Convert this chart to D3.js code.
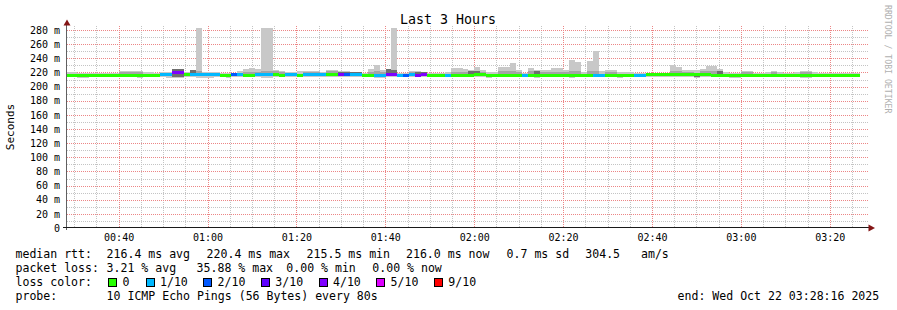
<!DOCTYPE html>
<html><head><meta charset="utf-8">
<script src="https://cdn.jsdelivr.net/npm/d3@7"></script>
<style>html,body{margin:0;padding:0;background:#fff;} svg{display:block;}</style>
</head><body><svg id="c" width="897" height="310"></svg>
<script>
// ---------------- data ----------------
const chartTitle = "Last 3 Hours";
const yAxisTitle = "Seconds";
const watermark = "RRDTOOL / TOBI OETIKER";
const startTime = "2025-10-22T00:28:16Z";
const endTime = "2025-10-22T03:28:16Z";
const stepSeconds = 80;
const firstBarOffset = -20;   // seconds relative to start
const yMaxMs = 282.84;
const yTickValues = [0, 20, 40, 60, 80, 100, 120, 140, 160, 180, 200, 220, 240, 260, 280];

const medianMs = [
 216.2,216.2,215.6,215.6,216.0,216.0,216.0,216.0,216.0,216.0,
 216.0,216.0,216.0,216.0,216.0,216.0,216.4,216.4,219.6,220.4,
 217.5,217.5,217.5,217.2,217.2,217.2,216.2,216.2,216.6,216.8,
 216.3,216.3,216.8,216.8,216.8,217.0,216.0,216.5,216.5,216.0,
 216.5,216.5,216.5,216.5,216.6,216.6,217.2,216.5,216.5,216.5,
 216.0,216.3,216.3,216.3,217.5,217.5,216.3,216.3,216.5,215.5,
 217.6,216.0,216.0,216.0,216.3,216.0,216.0,216.0,216.2,217.2,
 216.5,215.5,216.0,216.0,216.0,216.0,216.0,216.3,216.0,216.2,
 216.0,216.0,216.0,216.0,216.0,216.0,216.0,216.0,216.0,216.3,
 216.3,216.0,216.0,216.0,216.0,216.0,216.3,216.3,216.8,216.8,
 216.8,216.8,216.8,216.8,216.8,216.8,216.8,216.8,216.8,216.2,
 216.2,215.8,216.0,216.0,216.0,216.0,216.0,216.0,216.0,216.0,
 216.0,216.0,216.0,216.0,216.0,216.0,216.0,216.0,216.0,216.0,
 216.0,216.0,216.0,216.0
];
const lossPings = [
 0,0,0,0,0,0,0,0,0,0,
 0,0,0,0,0,0,0.6,0.4,3.4,3.59,
 0,0.5,0.7,0.4,0.5,0.3,0,0,1.6,0.5,
 0,0,0.4,0.8,0.6,0,0,0.5,0.4,0,
 0.6,0.5,0.4,0.3,0,0,3.2,1.4,0.7,0.5,
 0,0,0.6,0.4,3.3,3.5,0.8,1.3,0.6,3.1,
 3.2,0,0,0,0.5,0,0,0,0,0,
 0,0,0,0,0,0,0,0.4,0,0,
 0,0,0,0,0,0,0,0,0,0.6,
 0.5,0,0,0,0,0,0.4,0.6,0,0,
 0,0,0,0,0,0,0,0,0,0,
 0,0,0,0,0,0,0,0,0,0,
 0,0,0,0,0,0,0,0,0,0,
 0,0,0,0
];
const pingMax = [
 220.6,220.6,219.5,219.5,219.0,219.0,219.0,219.5,219.5,222.0,
 222.0,222.5,222.5,220.6,220.6,219.5,220.6,220.6,224.4,224.4,
 220.6,223.4,300.0,220.6,220.6,220.6,219.2,219.2,219.2,222.0,
 224.8,226.7,224.8,300.0,300.0,223.8,222.0,220.6,220.6,222.0,
 221.6,221.6,221.6,220.6,223.8,223.8,222.0,222.0,220.6,220.6,
 219.2,225.3,231.0,223.4,224.4,300.0,219.2,219.2,221.6,222.5,
 219.2,218.5,218.5,218.5,220.6,226.2,226.2,225.3,223.8,227.7,
 223.8,220.6,220.6,227.7,228.1,233.3,223.4,219.2,226.2,224.0,
 223.0,223.0,226.2,226.2,223.0,238.0,234.7,220.6,236.1,250.3,
 222.0,223.0,223.0,220.6,220.6,220.6,219.2,219.2,219.2,219.2,
 219.2,219.9,230.0,227.7,223.0,223.0,223.0,225.3,229.5,229.5,
 224.8,220.6,219.2,219.2,222.0,222.0,219.2,219.2,220.6,222.0,
 220.6,218.5,218.5,220.6,222.0,222.0,220.6,218.5,218.5,218.5,
 219.9,219.9,218.5,218.5
];
const pingMin = [
 214.2,214.2,212.0,212.0,214.2,214.2,214.2,214.2,214.2,214.2,
 214.2,214.2,212.0,214.2,214.2,214.2,214.2,212.0,212.5,212.5,
 214.2,214.2,212.0,212.0,212.0,214.2,214.2,212.0,214.2,214.2,
 214.2,214.2,214.2,212.0,212.5,214.2,214.2,214.2,214.2,214.2,
 214.2,214.2,214.2,214.2,214.2,214.2,214.2,214.2,214.2,214.2,
 214.2,214.2,212.0,212.0,214.2,214.2,214.2,214.2,214.2,214.2,
 214.2,214.2,214.2,214.2,214.2,214.2,214.2,214.2,214.2,214.2,
 214.2,212.0,214.2,214.2,214.2,214.2,214.2,214.2,214.2,212.0,
 214.2,214.2,214.2,214.2,214.2,212.5,214.2,214.2,214.2,214.2,
 214.2,214.2,214.2,212.5,214.2,214.2,214.2,214.2,214.2,214.2,
 214.2,214.2,214.2,214.2,214.2,214.2,212.0,214.2,214.2,214.2,
 214.2,214.2,212.0,212.0,214.2,214.2,214.2,214.2,214.2,214.2,
 214.2,214.2,214.2,214.2,212.0,212.0,214.2,214.2,214.2,214.2,
 214.2,214.2,213.0,213.0
];
// upper edge of the denser (mid-grey) part of the smoke, null = none
const midHi = [
 null,null,null,null,null,null,null,null,null,220.6,
 220.6,221.2,221.2,null,null,null,null,null,null,null,
 null,null,221.5,null,null,null,null,null,null,null,
 221.0,221.0,220.6,221.5,221.5,221.5,220.6,null,null,null,
 220.6,220.6,220.6,null,221.5,221.5,null,null,null,null,
 null,221.0,222.0,221.0,null,null,null,null,220.6,null,
 null,null,null,null,null,221.0,221.0,221.0,null,null,
 221.0,null,null,221.5,221.5,222.0,220.6,null,221.5,null,
 221.0,221.0,221.0,221.0,220.6,222.0,222.0,null,221.5,222.0,
 null,221.0,221.0,null,null,null,null,null,null,null,
 null,null,221.5,221.5,220.6,220.6,null,221.5,221.5,221.5,
 null,null,null,null,220.6,220.6,null,null,null,220.6,
 null,null,null,null,220.6,220.6,null,null,null,null,
 null,null,null,null
];
// darkest core of the smoke (bars with few replies), null = none
const darkLo = [
 null,null,null,null,null,null,null,null,null,null,
 null,null,null,null,null,null,null,null,213.0,213.0,
 null,214.5,null,null,null,null,null,null,null,null,
 null,null,null,null,null,null,null,null,null,null,
 null,null,null,null,null,null,215.0,215.0,215.0,215.0,
 null,null,null,null,214.5,214.5,null,null,null,214.0,
 215.0,null,null,null,null,null,null,null,215.0,215.0,
 null,null,null,null,null,null,null,null,null,213.5,
 null,null,null,null,null,null,null,null,null,null,
 null,null,null,null,null,null,null,null,null,null,
 null,null,null,null,null,null,213.0,null,null,null,
 214.5,null,null,null,null,null,null,null,null,null,
 null,null,null,null,213.5,null,null,null,null,null,
 null,null,null,null
];
const darkHi = [
 null,null,null,null,null,null,null,null,null,null,
 null,null,null,null,null,null,null,null,224.4,224.4,
 null,223.4,null,null,null,null,null,null,null,null,
 null,null,null,null,null,null,null,null,null,null,
 null,null,null,null,null,null,221.0,221.0,220.6,220.6,
 null,null,null,null,224.4,223.0,null,null,null,220.0,
 221.0,null,null,null,null,null,null,null,222.0,222.5,
 null,null,null,null,null,null,null,null,null,221.5,
 null,null,null,null,null,null,null,null,null,null,
 null,null,null,null,null,null,null,null,null,null,
 null,null,null,null,null,null,218.5,null,null,null,
 221.5,null,null,null,null,null,null,null,null,null,
 null,null,null,null,217.0,null,null,null,null,null,
 null,null,null,null
];
const lossThresholds = [0, 1, 2, 3, 4, 5, 9];
const lossLabels = ["0", "1/10", "2/10", "3/10", "4/10", "5/10", "9/10"];
const lossColors = ["#26ff00", "#00b8ff", "#0059ff", "#5e00ff", "#7e00ff", "#dd00ff", "#ff0000"];
const statsRtt = ["median rtt:", "216.4 ms avg", "220.4 ms max", "215.5 ms min", "216.0 ms now", "0.7 ms sd", "304.5", "am/s"];
const statsLoss = ["packet loss:", "3.21 % avg", "35.88 % max", "0.00 % min", "0.00 % now"];
const lossColorLabel = "loss color:";
const probeLabel = "probe:";
const probeText = "10 ICMP Echo Pings (56 Bytes) every 80s";
const endText = "end: Wed Oct 22 03:28:16 2025";

// ---------------- drawing ----------------
const svg = d3.select("#c");
const FONT = "'DejaVu Sans Mono', monospace";
const L = 67, R = 867, T = 28, B = 228;
const t0 = new Date(startTime), t1 = new Date(endTime);
const x = d3.scaleUtc().domain([t0, t1]).range([L, R]);
const y = d3.scaleLinear().domain([0, yMaxMs]).range([B, T]);
const crisp = v => Math.round(v) + 0.5;
const crispX = v => Math.floor(v) + 0.5;
const MAJOR = "#ec8686", MINOR = "#c4c4c4";

svg.append("rect").attr("width", 897).attr("height", 310).attr("fill", "#fff");

// grid
const grid = svg.append("g").attr("shape-rendering", "crispEdges");
const minorY = d3.range(10, 281, 20);
grid.selectAll(".hmin").data(minorY).join("line")
  .attr("x1", L).attr("x2", R + 2).attr("y1", d => crisp(y(d))).attr("y2", d => crisp(y(d)))
  .attr("stroke", MINOR).attr("stroke-dasharray", "1,1");
const minorX = x.ticks(d3.utcMinute.every(5)).filter(d => d.getUTCMinutes() % 20 !== 0);
grid.selectAll(".vmin").data(minorX).join("line")
  .attr("y1", T - 2).attr("y2", B).attr("x1", d => crispX(x(d))).attr("x2", d => crispX(x(d)))
  .attr("stroke", MINOR).attr("stroke-dasharray", "1,1");
grid.selectAll(".hmaj").data(yTickValues.filter(d => d > 0)).join("line")
  .attr("x1", L).attr("x2", R + 2).attr("y1", d => crisp(y(d))).attr("y2", d => crisp(y(d)))
  .attr("stroke", MAJOR).attr("stroke-dasharray", "1,1");
const majorX = x.ticks(d3.utcMinute.every(20));
grid.selectAll(".vmaj").data(majorX).join("line")
  .attr("y1", T - 2).attr("y2", B).attr("x1", d => crispX(x(d))).attr("x2", d => crispX(x(d)))
  .attr("stroke", MAJOR).attr("stroke-dasharray", "1,1");

// data
svg.append("clipPath").attr("id", "plot").append("rect")
  .attr("x", L).attr("y", T).attr("width", R - L).attr("height", B - T);
const g = svg.append("g").attr("clip-path", "url(#plot)").attr("shape-rendering", "crispEdges");
const bars = medianMs.map((m, i) => {
  const a = new Date(t0.getTime() + (firstBarOffset + i * stepSeconds) * 1000);
  const b = new Date(a.getTime() + stepSeconds * 1000);
  return {i, a, b, m, loss: lossPings[i], lo: pingMin[i], hi: pingMax[i], mid: midHi[i], dlo: darkLo[i], dhi: darkHi[i]};
});
const bx = d => x(d.a), bw = d => x(d.b) - x(d.a);
g.selectAll(".smoke").data(bars).join("rect")
  .attr("x", bx).attr("width", bw)
  .attr("y", d => y(d.hi)).attr("height", d => y(d.lo) - y(d.hi)).attr("fill", "#c8c8c8");
g.selectAll(".mid").data(bars.filter(d => d.mid !== null)).join("rect")
  .attr("x", bx).attr("width", bw)
  .attr("y", d => y(d.mid)).attr("height", d => y(d.m) - y(d.mid)).attr("fill", "#a4a4a4");
g.selectAll(".dark").data(bars.filter(d => d.dhi !== null)).join("rect")
  .attr("x", bx).attr("width", bw)
  .attr("y", d => y(d.dhi)).attr("height", d => y(d.dlo) - y(d.dhi)).attr("fill", "#6e6e6e");
const lossColor = l => {
  if (l <= 0) return lossColors[0];
  for (let k = 1; k < lossThresholds.length; k++) if (l <= lossThresholds[k]) return lossColors[k];
  return lossColors[lossColors.length - 1];
};
g.selectAll(".med").data(bars).join("rect")
  .attr("x", bx).attr("width", bw)
  .attr("y", d => y(d.m) - 1.5).attr("height", 3).attr("fill", d => lossColor(d.loss));

// axes
svg.append("line").attr("x1", crisp(L) - 1).attr("x2", crisp(L) - 1).attr("y1", B + 2).attr("y2", 24)
  .attr("stroke", "#606060");
svg.append("line").attr("x1", 63).attr("x2", 870).attr("y1", crisp(B) - 1).attr("y2", crisp(B) - 1)
  .attr("stroke", "#1a1a1a");
svg.append("path").attr("d", "M63.5,25.5 L70.5,25.5 L67,19.5 Z").attr("fill", "#841515");
svg.append("path").attr("d", "M868.5,224.5 L868.5,231.5 L875,228 Z").attr("fill", "#841515");

// y labels
svg.append("g").selectAll("text").data(yTickValues).join("text")
  .attr("x", 60).attr("y", d => y(d) + 3.7).attr("text-anchor", "end")
  .attr("font-family", FONT).attr("font-size", 10).attr("fill", "#000")
  .text(d => d === 0 ? "0" : d + " m");
// x labels
const fmt = d3.utcFormat("%H:%M");
svg.append("g").selectAll("text").data(majorX).join("text")
  .attr("x", d => x(d)).attr("y", 241).attr("text-anchor", "middle")
  .attr("font-family", FONT).attr("font-size", 10).attr("fill", "#000")
  .text(fmt);

// titles
svg.append("text").attr("x", 448).attr("y", 24).attr("text-anchor", "middle")
  .attr("font-family", FONT).attr("font-size", 13.3).attr("fill", "#000").text(chartTitle);
svg.append("text").attr("transform", "translate(14,127) rotate(-90)").attr("text-anchor", "middle")
  .attr("font-family", FONT).attr("font-size", 11).attr("fill", "#000").text(yAxisTitle);
svg.append("text").attr("transform", "translate(884.5,5) rotate(90)")
  .attr("font-family", FONT).attr("font-size", 8.2).attr("fill", "#b0b0b0").text(watermark);

// legend
const LF = 11.55;
const lg = svg.append("g").attr("font-family", FONT).attr("font-size", LF).attr("fill", "#000");
const rttX = [15.5, 106.6, 206.6, 306.6, 406, 506.6, 585.3, 641];
statsRtt.forEach((s, k) => lg.append("text").attr("x", rttX[k]).attr("y", 257.5).text(s));
const lossX = [15.5, 106.6, 196.6, 286.3, 372.3];
statsLoss.forEach((s, k) => lg.append("text").attr("x", lossX[k]).attr("y", 271.8).text(s));
lg.append("text").attr("x", 15.5).attr("y", 286).text(lossColorLabel);
const boxX = [108.3, 145.7, 203.3, 261, 318.7, 376.3, 434];
lossLabels.forEach((s, k) => {
  lg.append("rect").attr("x", Math.round(boxX[k]) + 0.5).attr("y", 278.5).attr("width", 8).attr("height", 8)
    .attr("fill", lossColors[k]).attr("stroke", "#000").attr("stroke-width", 1);
  lg.append("text").attr("x", boxX[k] + 14.3).attr("y", 286).text(s);
});
lg.append("text").attr("x", 15.5).attr("y", 300.2).text(probeLabel);
lg.append("text").attr("x", 106.6).attr("y", 300.2).text(probeText);
lg.append("text").attr("x", 677.6).attr("y", 300.2).text(endText);
</script></body></html>
